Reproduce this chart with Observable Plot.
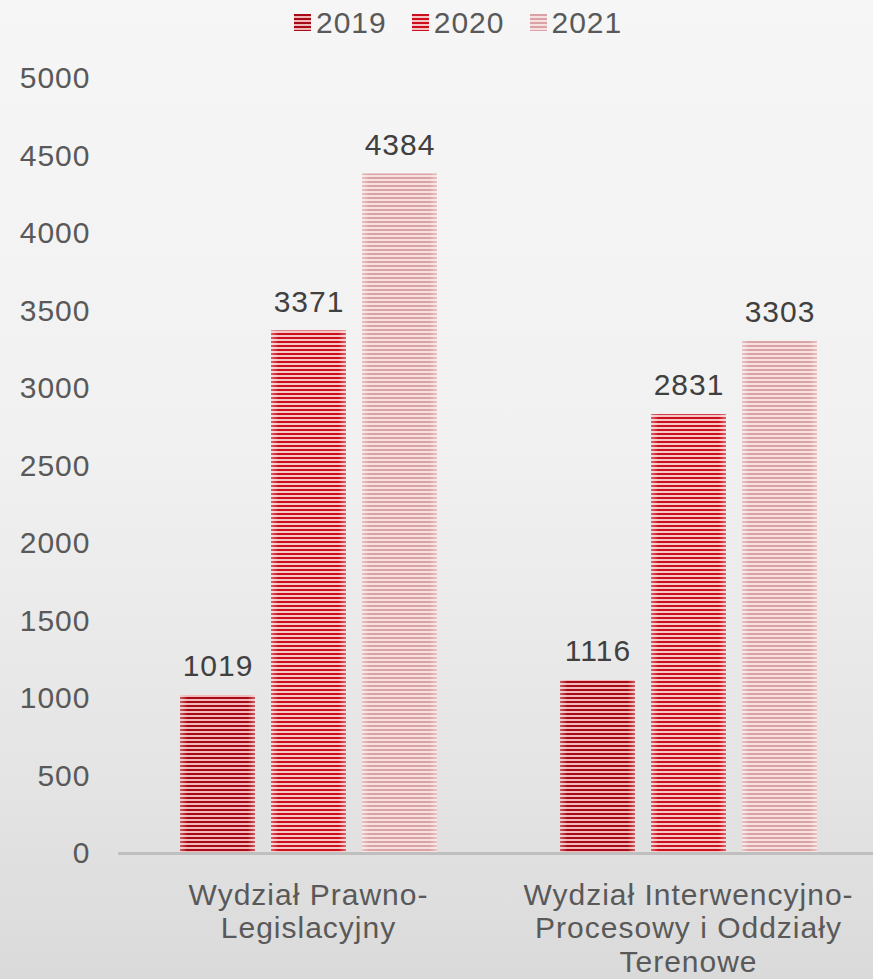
<!DOCTYPE html>
<html>
<head>
<meta charset="utf-8">
<script src="https://cdn.jsdelivr.net/npm/d3@7"></script>
<script src="https://cdn.jsdelivr.net/npm/@observablehq/plot@0.6"></script>
<style>
  html, body { margin: 0; padding: 0; }
  body {
    width: 873px; height: 979px; overflow: hidden;
    background: linear-gradient(180deg, #f6f6f6 0%, #f1f1f1 45%, #e4e4e4 80%, #dadada 100%);
    font-family: "Liberation Sans", Arial, sans-serif;
  }
  #legend {
    height: 45px; display: flex; align-items: center;
    padding-left: 294px; box-sizing: border-box;
    font-size: 30px; color: #595959; letter-spacing: 1px;
  }
  .item { display: flex; align-items: center; margin-right: 25px; }
  .item svg { margin-right: 5px; }
  #chart svg { display: block; background: transparent; }
</style>
</head>
<body>
<svg width="0" height="0" style="position:absolute">
  <defs>
    <pattern id="p2019" patternUnits="userSpaceOnUse" width="8" height="4">
      <rect width="8" height="4" fill="#f0b8b8"/>
      <rect width="8" height="2" fill="#a70a16"/>
    </pattern>
    <pattern id="p2020" patternUnits="userSpaceOnUse" width="8" height="4">
      <rect width="8" height="4" fill="#f5c6c6"/>
      <rect width="8" height="2" fill="#cc0f1c"/>
    </pattern>
    <pattern id="p2021" patternUnits="userSpaceOnUse" width="8" height="4">
      <rect width="8" height="4" fill="#f6e0e0"/>
      <rect width="8" height="2" fill="#dba2a5"/>
    </pattern>
    <linearGradient id="edge" x1="0" x2="1" y1="0" y2="0">
      <stop offset="0" stop-color="#ffffff" stop-opacity="0.35"/>
      <stop offset="0.1" stop-color="#ffffff" stop-opacity="0"/>
      <stop offset="0.9" stop-color="#ffffff" stop-opacity="0"/>
      <stop offset="1" stop-color="#ffffff" stop-opacity="0.35"/>
    </linearGradient>
  </defs>
</svg>
<div id="legend"></div>
<div id="chart"></div>
<script>
const depts = ["Prawno-Legislacyjny", "Interwencyjno-Procesowy"];
const deptLabels = [
  "Wydział Prawno-\nLegislacyjny",
  "Wydział Interwencyjno-\nProcesowy i Oddziały\nTerenowe"
];
const years = ["2019", "2020", "2021"];
const values2019 = [1019, 1116];
const values2020 = [3371, 2831];
const values2021 = [4384, 3303];
const yTicks = [0, 500, 1000, 1500, 2000, 2500, 3000, 3500, 4000, 4500, 5000];

const series = {"2019": values2019, "2020": values2020, "2021": values2021};
const rows = [];
depts.forEach((d, i) => years.forEach(y => rows.push({dept: d, year: y, value: series[y][i]})));

// Legend
const legend = document.getElementById("legend");
years.forEach(y => {
  const it = document.createElement("div");
  it.className = "item";
  it.innerHTML = `<svg width="17" height="17"><rect width="17" height="17" fill="url(#p${y})"/></svg><span>${y}</span>`;
  legend.appendChild(it);
});

const labelMap = new Map(depts.map((d, i) => [d, deptLabels[i]]));

const chart = Plot.plot({
  width: 873,
  height: 934,
  marginTop: 33,
  marginBottom: 126,
  marginLeft: 118,
  marginRight: 0,
  style: {fontFamily: "Liberation Sans, Arial, sans-serif", fontSize: "30px", color: "#595959", background: "transparent", letterSpacing: "1px"},
  fx: {domain: depts, padding: 0, range: [117.5, 877.5], label: null, tickFormat: d => labelMap.get(d)},
  x: {domain: years, paddingInner: 16 / 91, paddingOuter: 0.662, axis: null},
  y: {domain: [0, 5000], ticks: yTicks, label: null},
  marks: [
    Plot.axisY({ticks: yTicks, tickSize: 0, tickPadding: 28, label: null, fill: "#595959", fontSize: 30, tickFormat: d => String(d)}),
    Plot.axisFx({anchor: "bottom", tickSize: 0, tickPadding: 27, label: null, lineHeight: 1.13, fill: "#595959", fontSize: 30, tickFormat: d => labelMap.get(d)}),
    ...years.map(y => Plot.barY(rows.filter(r => r.year === y), {fx: "dept", x: "year", y: "value", fill: `url(#p${y})`})),
    Plot.barY(rows, {fx: "dept", x: "year", y: "value", fill: "url(#edge)"}),
    Plot.ruleY([0], {stroke: "#bfbfbf", strokeWidth: 3}),
    Plot.text(rows, {fx: "dept", x: "year", y: "value", text: d => String(d.value), dy: -29, fill: "#404040", fontSize: 30})
  ]
});
document.getElementById("chart").appendChild(chart);
</script>
</body>
</html>
